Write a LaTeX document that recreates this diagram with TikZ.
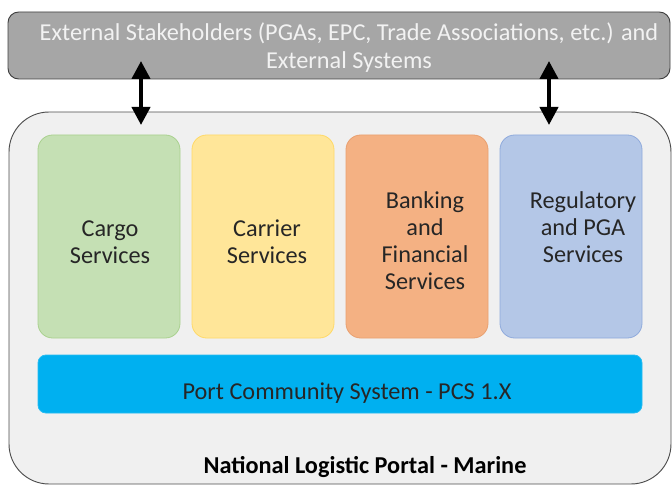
\documentclass[tikz,border=0pt]{standalone}
\usepackage{fontspec}
\setmainfont{Carlito}
\usetikzlibrary{arrows.meta}

\definecolor{extfill}{HTML}{A6A6A6}
\definecolor{portfill}{HTML}{F0F0F0}
\definecolor{cargofill}{HTML}{C5E0B4}
\definecolor{cargoline}{HTML}{A9D18E}
\definecolor{carrierfill}{HTML}{FFE699}
\definecolor{carrierline}{HTML}{FFD966}
\definecolor{bankfill}{HTML}{F4B183}
\definecolor{bankline}{HTML}{E9A070}
\definecolor{regfill}{HTML}{B4C7E7}
\definecolor{regline}{HTML}{8FAADC}
\definecolor{pcsfill}{HTML}{00B0F0}
\definecolor{txt}{HTML}{262626}

\begin{document}
\begin{tikzpicture}[x=0.75pt,y=-0.75pt,
  svc/.style={rounded corners=11pt,minimum width=106.5pt,minimum height=152.25pt,inner sep=0pt,line width=0.6pt},
  svctext/.style={align=center,text=txt,font=\fontsize{18.2}{20.4}\selectfont},
  link/.style={line width=3pt,{Triangle[length=13.5pt,width=13.5pt]}-{Triangle[length=13.5pt,width=13.5pt]}}]
\useasboundingbox (0,0) rectangle (672,485);

% external stakeholders
\node [draw=black!75,fill=extfill,rounded corners=8pt,line width=0.7pt,
  minimum width=496.5pt,minimum height=50.25pt] (ext) at (339,45.5) {};
\node [align=center,text=white!95!black,font=\fontsize{18.2}{21}\selectfont] (exttxt) at (349,48)
  {External Stakeholders (PGAs, EPC, Trade Associations, etc.) and\\External Systems};

% national logistic portal
\node [draw=black!70,fill=portfill,rounded corners=30pt,line width=0.7pt,
  minimum width=496.5pt,minimum height=279pt] (nlp) at (340,298) {};

% services
\node [svc,draw=cargoline,fill=cargofill] (cargo) at (109,236.5) {};
\node [svc,draw=carrierline,fill=carrierfill] (carrier) at (263,236.5) {};
\node [svc,draw=bankline,fill=bankfill] (bank) at (417,236.5) {};
\node [svc,draw=regline,fill=regfill] (reg) at (571,236.5) {};
\node [svctext] (cargotxt) at (110,242) {Cargo\\Services};
\node [svctext] (carriertxt) at (267,242) {Carrier\\Services};
\node [svctext] (banktxt) at (425,240.5) {Banking\\and\\Financial\\Services};
\node [svctext] (regtxt) at (583,227) {Regulatory\\and PGA\\Services};

% pcs
\node [draw=pcsfill!85!white,fill=pcsfill,rounded corners=6pt,line width=0.6pt,
  minimum width=453pt,minimum height=43.5pt] (pcs) at (340,384) {};
\node [svctext] (pcstxt) at (347,393) {Port Community System - PCS 1.X};

\node [font=\fontsize{18.2}{20}\selectfont\bfseries,text=black] (nlptxt) at (365,467)
  {National Logistic Portal - Marine};

% links
\coordinate (l1) at (141,61);
\coordinate (l2) at (141,125);
\coordinate (r1) at (549,61);
\coordinate (r2) at (549,125);
\draw [link] (l1) -- (l2);
\draw [link] (r1) -- (r2);
\end{tikzpicture}
\end{document}
